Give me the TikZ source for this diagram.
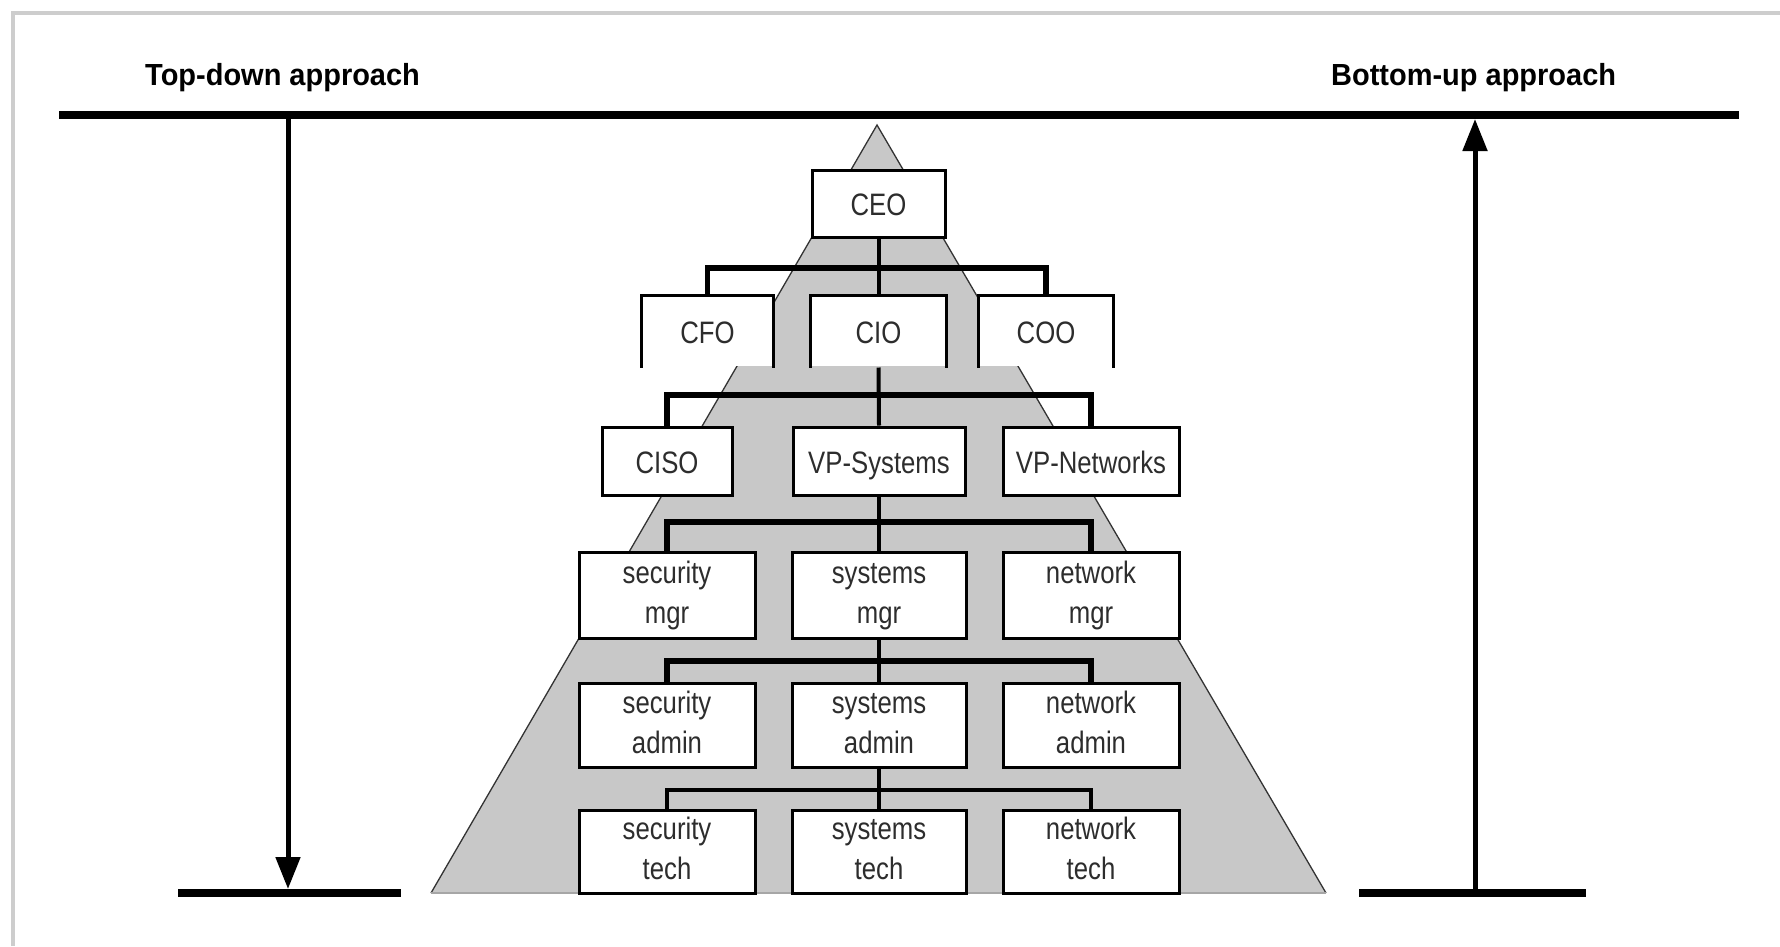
\documentclass[tikz,border=0pt]{standalone}
\usepackage{fontspec}
\setmainfont{Liberation Sans}
\newfontfamily\boxfont{Liberation Sans}[FakeStretch=0.83]
\newfontfamily\headfont{Liberation Sans}[FakeStretch=0.95]
\usepackage{xcolor}
\usepackage{tikz}
\usetikzlibrary{arrows.meta}

\definecolor{pyrgray}{RGB}{200,200,200}
\definecolor{framegray}{RGB}{205,205,205}
\definecolor{labelgray}{RGB}{45,45,45}
\newcommand\onestrut{\rule[-8pt]{0pt}{40pt}}

\tikzset{
  orgbox/.style={draw, line width=3pt, fill=white, inner sep=0pt, align=center,
    font=\boxfont\fontsize{31}{40}\selectfont, text=labelgray, minimum height=68pt},
  openbox/.style={orgbox, draw=none},
  stem/.style={line width=4pt},
  bus/.style={line width=5.5pt, line join=miter},
  thinbus/.style={line width=3.5pt, line join=miter},
  bar/.style={line width=8pt},
  flow/.style={line width=5pt, -{Triangle[width=24pt,length=32pt]}},
  heading/.style={font=\headfont\bfseries\fontsize{30.5}{36}\selectfont, anchor=base west, inner sep=0pt}
}

\begin{document}
\begin{tikzpicture}[x=1pt, y=-1pt]
\useasboundingbox (0,0) rectangle (1780,946);
\draw[framegray, line width=4pt] (13,946) -- (13,13) -- (1780,13);

% headings
\node[heading] (td) at (145,85) {Top-down approach};
\node[heading] (bu) at (1331,85) {Bottom-up approach};

% pyramid
\coordinate (apex) at (877,125);
\coordinate (baseL) at (431,893);
\coordinate (baseR) at (1326,893);
\fill[pyrgray] (baseL) -- (apex) -- (baseR) -- cycle;
\draw[line width=1.3pt, black!80] (baseL) -- (apex) -- (baseR);
\draw[line width=1.5pt, black!35] (baseL) -- (baseR);

% bars and arrows
\coordinate (topL) at (59,115);
\coordinate (topR) at (1739,115);
\draw[bar] (topL) -- (topR);
\coordinate (botLa) at (178,893);
\coordinate (botLb) at (401,893);
\coordinate (botRa) at (1359,893);
\coordinate (botRb) at (1586,893);
\draw[bar] (botLa) -- (botLb);
\draw[bar] (botRa) -- (botRb);
\coordinate (tdS) at (288,119);
\coordinate (tdE) at (288,889);
\draw[flow] (tdS) -- (tdE);
\coordinate (buS) at (1475,889);
\coordinate (buE) at (1475,119);
\draw[flow] (buS) -- (buE);

% chart
\node[orgbox, minimum width=133pt, minimum height=67pt] (ceo) at (878.5,203.5) {\onestrut CEO};
\foreach \n/\t/\x/\w in {cfo/CFO/707.5/129pt, cio/CIO/878.5/133pt, coo/COO/1046/132pt} {
  \node[openbox, minimum width=\w, minimum height=69pt] (\n) at (\x,331.5) {\onestrut\t};
  \draw[line width=3pt] (\n.south west) -- (\n.north west) -- (\n.north east) -- (\n.south east);
}
\node[orgbox, minimum width=130pt] (ciso) at (667,461) {\onestrut CISO};
\node[orgbox, minimum width=172pt] (vpsys) at (879,461) {\onestrut VP-Systems};
\node[orgbox, minimum width=176pt] (vpnet) at (1091,461) {\onestrut VP-Networks};
\foreach \r/\y/\h in {mgr/595/86pt, admin/725/84pt, tech/851.5/83pt} {
  \node[orgbox, minimum width=176pt, minimum height=\h] (sec\r) at (667,\y) {\strut security\\\strut\r};
  \node[orgbox, minimum width=174pt, minimum height=\h] (sys\r) at (879,\y) {\strut systems\\\strut\r};
  \node[orgbox, minimum width=176pt, minimum height=\h] (net\r) at (1091,\y) {\strut network\\\strut\r};
}

% connectors
\coordinate (b1) at (878.5,268);
\coordinate (b2) at (879,395);
\coordinate (b3) at (879,522);
\coordinate (b4) at (879,661);
\coordinate (b5) at (879,790);
\draw[stem] (ceo.south) -- (cio.north);
\draw[bus] (cfo.north) |- (b1) -| (coo.north);
\draw[stem] (cio.south) -- (vpsys.north);
\draw[bus] (ciso.north) |- (b2) -| (vpnet.north);
\draw[stem] (vpsys.south) -- (sysmgr.north);
\draw[bus] (secmgr.north) |- (b3) -| (netmgr.north);
\draw[stem] (sysmgr.south) -- (sysadmin.north);
\draw[bus] (secadmin.north) |- (b4) -| (netadmin.north);
\draw[stem] (sysadmin.south) -- (systech.north);
\draw[thinbus] (sectech.north) |- (b5) -| (nettech.north);
\end{tikzpicture}
\end{document}
